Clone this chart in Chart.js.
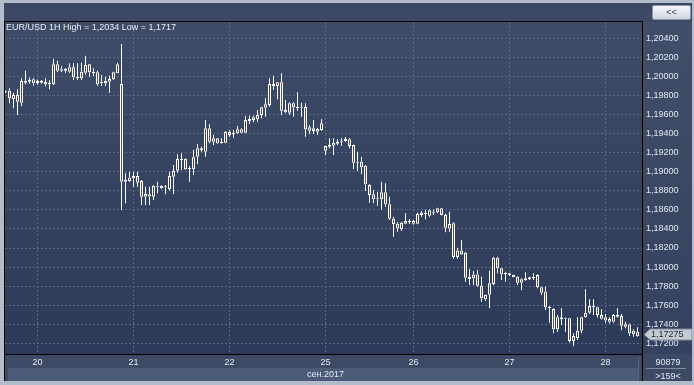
<!DOCTYPE html>
<html lang="ru">
<head>
<meta charset="UTF-8">
<title>EUR/USD 1H</title>
<script src="https://cdn.jsdelivr.net/npm/chart.js"></script>
<style>
  html, body { margin: 0; padding: 0; }
  body { width: 694px; height: 385px; background: #3c4964; position: relative; overflow: hidden;
         font-family: "Liberation Sans", Arial, sans-serif; font-size: 9px; color: #e2e8f2; }
  .abs { position: absolute; }
  .light { background: #b2bccb; }
  .black { background: #000; }
  #axisPanel { left: 643px; top: 22px; width: 51px; height: 332px; background: linear-gradient(#404e69, #34425f); }
  #datePanel { left: 5px; top: 355px; width: 637px; height: 26px; background: #3d4a65; }
  #strip { left: 8px; top: 368px; width: 630px; height: 13px; background: #4c5b77; }
  #month { left: 307px; top: 368px; line-height: 13px; }
  #sep { left: 638px; top: 357px; width: 1px; height: 23px; background: #5c687f; }
  #title { left: 6px; top: 22px; line-height: 10px; color: #e9eef7; white-space: nowrap; }
  #btn { left: 652px; top: 5px; width: 37px; height: 13px; border: 1px solid #8d97a8; border-radius: 2px;
         background: linear-gradient(#f6f7fa, #cdd4de); color: #3b4252; text-align: center; line-height: 13px; }
  #vol { left: 643px; top: 356px; width: 50px; text-align: center; line-height: 12px; }
  #volLine { left: 646px; top: 368px; width: 40px; height: 1px; background: #7f8aa0; }
  #bars { left: 643px; top: 370px; width: 50px; text-align: center; line-height: 12px; }
  canvas { position: absolute; left: 0; top: 0; }
</style>
</head>
<body>
  <div class="abs" id="axisPanel"></div>
  <div class="abs" id="datePanel"></div>
  <div class="abs" id="strip"></div>
  <canvas id="chart" width="694" height="385"></canvas>
  <div class="abs" id="month">сен.2017</div>
  <div class="abs" id="sep"></div>
  <div class="abs" id="title">EUR/USD 1H High = 1,2034 Low = 1,1717</div>
  <div class="abs" id="btn">&lt;&lt;</div>
  <div class="abs" id="vol">90879</div>
  <div class="abs" id="volLine"></div>
  <div class="abs" id="bars">&gt;159&lt;</div>

  <div class="abs light" style="left:0;top:0;width:694px;height:3px"></div>
  <div class="abs light" style="left:0;top:0;width:4px;height:385px"></div>
  <div class="abs light" style="left:0;top:381px;width:694px;height:4px"></div>
  <div class="abs light" style="left:692px;top:0;width:2px;height:385px"></div>
  <div class="abs black" style="left:4px;top:21px;width:639px;height:1px"></div>
  <div class="abs black" style="left:4px;top:21px;width:1px;height:360px"></div>
  <div class="abs black" style="left:642px;top:21px;width:1px;height:360px"></div>

  <script>
    // hourly EUR/USD candles, 20-28 Sep 2017
    const open = [
      1.19840, 1.19851, 1.19763, 1.19805, 1.19725, 1.19934, 1.19945, 1.19970, 1.19928, 1.19934,
      1.19942, 1.19918, 1.19921, 1.20128, 1.20060, 1.20060, 1.20050, 1.20096, 1.19981, 1.19981,
      1.20039, 1.20044, 1.20033, 1.20044, 1.19928, 1.19928, 1.19945, 1.19970, 1.20033, 1.19921,
      1.18914, 1.18903, 1.18931, 1.18956, 1.18903, 1.18767, 1.18765, 1.18738, 1.18843, 1.18826,
      1.18837, 1.18816, 1.18948, 1.19011, 1.19123, 1.19134, 1.19029, 1.19026, 1.19158, 1.19228,
      1.19211, 1.19456, 1.19315, 1.19351, 1.19298, 1.19305, 1.19386, 1.19396, 1.19403, 1.19445,
      1.19410, 1.19533, 1.19543, 1.19551, 1.19596, 1.19672, 1.19700, 1.19900, 1.19900, 1.19938,
      1.19624, 1.19620, 1.19718, 1.19666, 1.19680, 1.19680, 1.19431, 1.19428, 1.19420, 1.19438,
      1.19221, 1.19263, 1.19273, 1.19294, 1.19315, 1.19323, 1.19341, 1.19281, 1.19095, 1.19106,
      1.19064, 1.18861, 1.18764, 1.18711, 1.18711, 1.18785, 1.18659, 1.18507, 1.18405, 1.18398,
      1.18455, 1.18470, 1.18455, 1.18455, 1.18546, 1.18557, 1.18539, 1.18570, 1.18575, 1.18617,
      1.18546, 1.18405, 1.18459, 1.18106, 1.18173, 1.18151, 1.17875, 1.17882, 1.17922, 1.17805,
      1.17662, 1.17709, 1.17822, 1.18098, 1.17987, 1.17924, 1.17917, 1.17917, 1.17899, 1.17836,
      1.17864, 1.17875, 1.17882, 1.17917, 1.17788, 1.17742, 1.17567, 1.17560, 1.17347, 1.17455,
      1.17464, 1.17464, 1.17225, 1.17253, 1.17333, 1.17473, 1.17521, 1.17578, 1.17578, 1.17497,
      1.17473, 1.17455, 1.17426, 1.17479, 1.17487, 1.17401, 1.17398, 1.17295, 1.17322
    ];
    const high = [
      1.19853, 1.19876, 1.19829, 1.19865, 1.19981, 1.20060, 1.19987, 1.19981, 1.19966, 1.19963,
      1.19981, 1.19960, 1.20183, 1.20165, 1.20110, 1.20089, 1.20138, 1.20138, 1.20138, 1.20144,
      1.20218, 1.20131, 1.20086, 1.20060, 1.20015, 1.19997, 1.20008, 1.20050, 1.20144, 1.20340,
      1.18984, 1.19001, 1.19001, 1.19001, 1.18914, 1.18843, 1.18843, 1.18861, 1.18896, 1.18861,
      1.18861, 1.19001, 1.19071, 1.19183, 1.19194, 1.19141, 1.19060, 1.19228, 1.19290, 1.19263,
      1.19543, 1.19498, 1.19386, 1.19355, 1.19351, 1.19428, 1.19438, 1.19438, 1.19480, 1.19456,
      1.19585, 1.19588, 1.19588, 1.19648, 1.19683, 1.19771, 1.19981, 1.20008, 1.19940, 1.20033,
      1.19753, 1.19729, 1.19729, 1.19834, 1.19725, 1.19718, 1.19487, 1.19543, 1.19462, 1.19551,
      1.19272, 1.19351, 1.19351, 1.19341, 1.19351, 1.19364, 1.19351, 1.19283, 1.19211, 1.19158,
      1.19071, 1.18869, 1.18809, 1.18789, 1.18896, 1.18879, 1.18738, 1.18529, 1.18470, 1.18476,
      1.18564, 1.18505, 1.18494, 1.18570, 1.18588, 1.18599, 1.18604, 1.18604, 1.18623, 1.18620,
      1.18560, 1.18581, 1.18470, 1.18202, 1.18284, 1.18161, 1.17980, 1.17959, 1.17969, 1.17899,
      1.17711, 1.17962, 1.18109, 1.18109, 1.17990, 1.17951, 1.17941, 1.17920, 1.17906, 1.17882,
      1.17945, 1.17899, 1.17935, 1.17924, 1.17794, 1.17794, 1.17591, 1.17567, 1.17497, 1.17567,
      1.17468, 1.17468, 1.17305, 1.17473, 1.17479, 1.17767, 1.17662, 1.17662, 1.17584, 1.17557,
      1.17507, 1.17473, 1.17507, 1.17567, 1.17507, 1.17427, 1.17409, 1.17347, 1.17368
    ];
    const low = [
      1.19826, 1.19718, 1.19666, 1.19596, 1.19690, 1.19918, 1.19924, 1.19903, 1.19913, 1.19924,
      1.19897, 1.19865, 1.19910, 1.20047, 1.20047, 1.20039, 1.20039, 1.19963, 1.19963, 1.19963,
      1.20018, 1.19997, 1.20005, 1.19900, 1.19900, 1.19900, 1.19829, 1.19963, 1.20033, 1.18599,
      1.18669, 1.18896, 1.18843, 1.18843, 1.18651, 1.18651, 1.18651, 1.18704, 1.18774, 1.18819,
      1.18764, 1.18801, 1.18767, 1.18990, 1.19018, 1.19018, 1.18896, 1.18966, 1.19078, 1.19211,
      1.19158, 1.19298, 1.19281, 1.19295, 1.19295, 1.19298, 1.19368, 1.19357, 1.19396, 1.19403,
      1.19403, 1.19501, 1.19519, 1.19525, 1.19561, 1.19578, 1.19683, 1.19859, 1.19760, 1.19596,
      1.19613, 1.19596, 1.19578, 1.19641, 1.19578, 1.19368, 1.19396, 1.19396, 1.19386, 1.19431,
      1.19176, 1.19246, 1.19176, 1.19281, 1.19273, 1.19315, 1.19246, 1.19029, 1.19008, 1.18973,
      1.18798, 1.18675, 1.18669, 1.18644, 1.18604, 1.18633, 1.18494, 1.18318, 1.18371, 1.18378,
      1.18449, 1.18452, 1.18444, 1.18449, 1.18529, 1.18501, 1.18529, 1.18546, 1.18564, 1.18543,
      1.18365, 1.18371, 1.18087, 1.18087, 1.18127, 1.17846, 1.17812, 1.17812, 1.17794, 1.17635,
      1.17643, 1.17567, 1.17812, 1.17935, 1.17864, 1.17846, 1.17906, 1.17890, 1.17812, 1.17759,
      1.17857, 1.17864, 1.17864, 1.17777, 1.17707, 1.17549, 1.17416, 1.17305, 1.17322, 1.17392,
      1.17322, 1.17208, 1.17170, 1.17235, 1.17305, 1.17468, 1.17507, 1.17497, 1.17468, 1.17450,
      1.17416, 1.17408, 1.17415, 1.17468, 1.17338, 1.17357, 1.17277, 1.17270, 1.17270
    ];
    const close = [
      1.19838, 1.19771, 1.19805, 1.19735, 1.19952, 1.19955, 1.19966, 1.19928, 1.19952, 1.19952,
      1.19918, 1.19931, 1.20128, 1.20060, 1.20075, 1.20081, 1.20096, 1.19991, 1.19997, 1.20050,
      1.20120, 1.20128, 1.20050, 1.19918, 1.19945, 1.19955, 1.19973, 1.20044, 1.20128, 1.18896,
      1.18896, 1.18938, 1.18956, 1.18885, 1.18738, 1.18738, 1.18740, 1.18854, 1.18854, 1.18854,
      1.18843, 1.18956, 1.19008, 1.19134, 1.19137, 1.19026, 1.19043, 1.19152, 1.19246, 1.19246,
      1.19456, 1.19315, 1.19351, 1.19298, 1.19315, 1.19420, 1.19420, 1.19410, 1.19445, 1.19410,
      1.19543, 1.19554, 1.19571, 1.19596, 1.19676, 1.19708, 1.19921, 1.19921, 1.19938, 1.19641,
      1.19648, 1.19718, 1.19676, 1.19680, 1.19672, 1.19445, 1.19466, 1.19456, 1.19449, 1.19508,
      1.19270, 1.19281, 1.19305, 1.19315, 1.19323, 1.19344, 1.19270, 1.19095, 1.19106, 1.19047,
      1.18869, 1.18756, 1.18711, 1.18722, 1.18785, 1.18659, 1.18507, 1.18452, 1.18455, 1.18465,
      1.18483, 1.18486, 1.18483, 1.18557, 1.18570, 1.18564, 1.18595, 1.18581, 1.18617, 1.18546,
      1.18413, 1.18452, 1.18106, 1.18173, 1.18134, 1.17888, 1.17899, 1.17922, 1.17805, 1.17672,
      1.17709, 1.17830, 1.18098, 1.17987, 1.17924, 1.17941, 1.17935, 1.17893, 1.17836, 1.17872,
      1.17882, 1.17893, 1.17899, 1.17788, 1.17731, 1.17578, 1.17584, 1.17347, 1.17473, 1.17473,
      1.17458, 1.17225, 1.17277, 1.17333, 1.17473, 1.17521, 1.17591, 1.17591, 1.17497, 1.17458,
      1.17440, 1.17426, 1.17497, 1.17497, 1.17385, 1.17374, 1.17305, 1.17333, 1.17275
    ];

    // first candle of each trading day and its label
    const dayIdx = [8, 32, 56, 80, 102, 126, 150];
    const dayLabels = ['20', '21', '22', '25', '26', '27', '28'];

    const FONT = { family: '"Liberation Sans", Arial, sans-serif', size: 9 };
    const BEAR = '#e3173d';
    const fmt = v => v.toFixed(5).replace('.', ',');

    const idx = close.map((_, i) => i);
    const bodies = idx.map(i => ({ x: i, y: [open[i], close[i]] }));
    const upper = idx.map(i => ({ x: i, y: [Math.max(open[i], close[i]), high[i]] }));
    const lower = idx.map(i => ({ x: i, y: [low[i], Math.min(open[i], close[i])] }));

    const plotBg = {
      id: 'plotBg',
      beforeDraw(chart) {
        const { ctx, chartArea: a } = chart;
        const g = ctx.createLinearGradient(0, a.top, 0, a.bottom);
        g.addColorStop(0, '#3f4c67');
        g.addColorStop(1, '#2c3a59');
        ctx.save();
        ctx.fillStyle = g;
        ctx.fillRect(a.left, a.top, a.right - a.left, a.bottom - a.top);
        ctx.restore();
      }
    };

    // grey arrow tag with the last price on the right axis
    const lastTag = {
      id: 'lastTag',
      afterDraw(chart) {
        const { ctx } = chart;
        const last = close[close.length - 1];
        const y = Math.round(chart.scales.y.getPixelForValue(last)) - 1.5;
        const x0 = chart.chartArea.right + 2;
        ctx.save();
        ctx.beginPath();
        ctx.moveTo(x0, y);
        ctx.lineTo(x0 + 6, y - 5.5);
        ctx.lineTo(692, y - 5.5);
        ctx.lineTo(692, y + 5.5);
        ctx.lineTo(x0 + 6, y + 5.5);
        ctx.closePath();
        ctx.fillStyle = '#c6cbd3';
        ctx.fill();
        ctx.strokeStyle = '#7d8697';
        ctx.lineWidth = 1;
        ctx.stroke();
        ctx.fillStyle = '#1b2232';
        ctx.font = '9px ' + FONT.family;
        ctx.textBaseline = 'middle';
        ctx.fillText(fmt(last), x0 + 7, y + 0.5);
        ctx.restore();
      }
    };

    new Chart(document.getElementById('chart'), {
      type: 'bar',
      data: {
        datasets: [
          {
            label: 'body', data: bodies, order: 0, grouped: false,
            barThickness: 3, borderWidth: 1, borderColor: '#ffffff', borderSkipped: false,
            inflateAmount: 0, minBarLength: 1,
            backgroundColor: c => close[c.dataIndex] < open[c.dataIndex] ? BEAR : 'rgba(0,0,0,0)'
          },
          { label: 'upper', data: upper, order: 1, grouped: false, barThickness: 1, borderWidth: 0, inflateAmount: 0, backgroundColor: '#ffffff' },
          { label: 'lower', data: lower, order: 1, grouped: false, barThickness: 1, borderWidth: 0, inflateAmount: 0, backgroundColor: '#ffffff' }
        ]
      },
      options: {
        responsive: false,
        devicePixelRatio: 1,
        animation: false,
        events: [],
        layout: { padding: { top: 22, left: 5, right: 0, bottom: 0 } },
        plugins: { legend: { display: false }, tooltip: { enabled: false } },
        scales: {
          x: {
            type: 'linear',
            min: -0.125,
            max: 159.125,
            offset: false,
            afterBuildTicks: s => { s.ticks = dayIdx.map(v => ({ value: v })); },
            afterFit: s => { s.height = 31; },
            ticks: {
              autoSkip: false, maxRotation: 0, padding: 3, color: '#e2e8f2', font: FONT,
              callback: (v, i) => dayLabels[i]
            },
            grid: { color: '#5a6884', drawTicks: false, offset: false },
            border: { display: true, color: '#000000', width: 1, dash: [2, 2] }
          },
          y: {
            type: 'linear',
            position: 'right',
            min: 1.17088,
            max: 1.20571,
            afterFit: s => { s.width = 52; },
            ticks: {
              stepSize: 0.002, includeBounds: false, padding: 4, color: '#e2e8f2', font: FONT,
              callback: v => fmt(v)
            },
            grid: { color: '#5a6884', drawTicks: false },
            border: { display: true, color: '#000000', width: 1, dash: [2, 2] }
          }
        }
      },
      plugins: [plotBg, lastTag]
    });
  </script>
</body>
</html>
